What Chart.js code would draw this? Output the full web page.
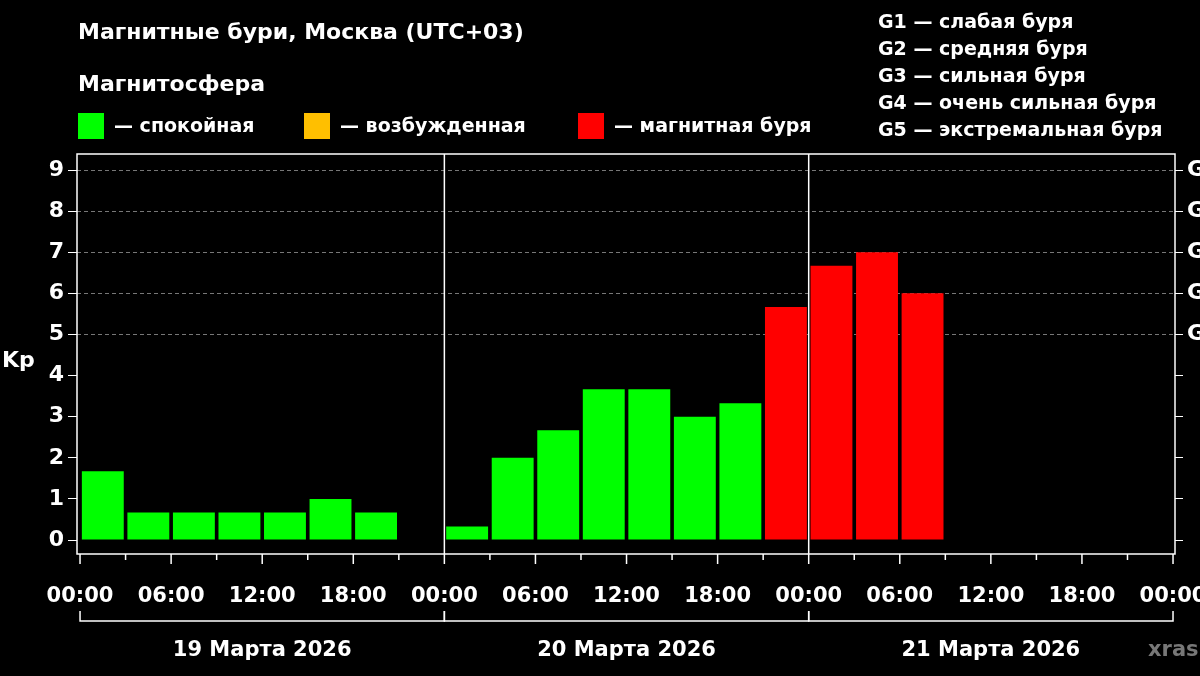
<!DOCTYPE html>
<html>
<head>
<meta charset="utf-8">
<script src="https://cdn.jsdelivr.net/npm/chart.js@4"></script>
<style>
  html, body { margin: 0; padding: 0; background: #000; }
  #wrap { width: 1200px; height: 676px; }
</style>
</head>
<body>
<div id="wrap"><canvas id="kp"></canvas></div>
<script>
const slotHours = [0, 3, 6, 9, 12, 15, 18, 21, 24, 27, 30, 33, 36, 39, 42, 45, 48, 51, 54, 57, 60, 63, 66, 69];
const kpValues = [1.67, 0.67, 0.67, 0.67, 0.67, 1.0, 0.67, null,
                  0.33, 2.0, 2.67, 3.67, 3.67, 3.0, 3.33, 5.67,
                  6.67, 7.0, 6.0, null, null, null, null, null];
const dayLabels = ['19 Марта 2026', '20 Марта 2026', '21 Марта 2026'];
const stormLabels = ['G1', 'G2', 'G3', 'G4', 'G5'];
const stormLegend = ['G1 — слабая буря', 'G2 — средняя буря', 'G3 — сильная буря', 'G4 — очень сильная буря', 'G5 — экстремальная буря'];

const FONT = '"DejaVu Sans", sans-serif';
const GREEN = '#00ff00', ORANGE = '#ffbf00', RED = '#ff0000';

function barColor(v) {
  if (v >= 5) return RED;
  if (v >= 4) return ORANGE;
  return GREEN;
}

// frame, day separators, x ticks and labels, brackets and header text
const decor = {
  id: 'decor',
  afterDatasetsDraw(chart) {
    const ctx = chart.ctx, a = chart.chartArea, x = chart.scales.x;
    ctx.save();
    ctx.strokeStyle = '#fff';
    ctx.lineWidth = 1.5;
    ctx.strokeRect(a.left, a.top, a.right - a.left, a.bottom - a.top);
    [24, 48].forEach(h => {
      const px = x.getPixelForValue(h);
      ctx.beginPath(); ctx.moveTo(px, a.top); ctx.lineTo(px, a.bottom); ctx.stroke();
    });
    ctx.fillStyle = '#fff';
    ctx.font = 'bold 21px ' + FONT;
    ctx.textAlign = 'center';
    ctx.textBaseline = 'middle';
    for (let h = 0; h <= 72; h += 3) {
      const px = x.getPixelForValue(h);
      ctx.beginPath(); ctx.moveTo(px, a.bottom); ctx.lineTo(px, a.bottom + (h % 6 === 0 ? 10 : 6)); ctx.stroke();
      if (h % 6 === 0) ctx.fillText(String(h % 24).padStart(2, '0') + ':00', px, 597);
    }
    dayLabels.forEach((d, i) => {
      const x0 = x.getPixelForValue(i * 24), x1 = x.getPixelForValue(i * 24 + 24);
      ctx.beginPath();
      ctx.moveTo(x0, 611); ctx.lineTo(x0, 621); ctx.lineTo(x1, 621); ctx.lineTo(x1, 611);
      ctx.stroke();
      ctx.fillText(d, (x0 + x1) / 2, 651);
    });
    ctx.fillStyle = '#777';
    ctx.textAlign = 'left';
    ctx.fillText('xras', 1148, 651);

    ctx.fillStyle = '#fff';
    ctx.font = 'bold 22px ' + FONT;
    ctx.fillText('Kp', 2, 361);
    ctx.fillText('Магнитные бури, Москва (UTC+03)', 78, 33);
    ctx.fillText('Магнитосфера', 78, 85);
    ctx.font = 'bold 19px ' + FONT;
    const legend = [[GREEN, '— спокойная', 78], [ORANGE, '— возбужденная', 304], [RED, '— магнитная буря', 578]];
    legend.forEach(([c, t, lx]) => {
      ctx.fillStyle = c;
      ctx.fillRect(lx, 113, 26, 26);
      ctx.fillStyle = '#fff';
      ctx.fillText(t, lx + 36, 127);
    });
    stormLegend.forEach((t, i) => ctx.fillText(t, 878, 23 + i * 27));
    ctx.restore();
  }
};

new Chart(document.getElementById('kp'), {
  type: 'bar',
  data: {
    datasets: [{
      data: slotHours.map((h, i) => ({ x: h + 1.5, y: kpValues[i] })),
      backgroundColor: c => barColor(c.raw ? c.raw.y : 0),
      categoryPercentage: 1,
      barPercentage: 0.92,
      yAxisID: 'y'
    }]
  },
  options: {
    responsive: true,
    maintainAspectRatio: false,
    animation: false,
    layout: { padding: { top: 154, left: 0, right: 0, bottom: 0 } },
    plugins: { legend: { display: false }, tooltip: { enabled: false } },
    scales: {
      x: {
        type: 'linear', min: -0.2, max: 72.13, offset: false,
        afterFit: s => { s.height = 122; },
        grid: { display: false, drawTicks: false },
        border: { display: false },
        ticks: { display: false }
      },
      y: {
        min: -0.34, max: 9.39,
        afterBuildTicks: s => { s.ticks = []; for (let k = 0; k <= 9; k++) s.ticks.push({ value: k }); },
        afterFit: s => { s.width = 77; },
        grid: { color: c => c.tick && c.tick.value >= 5 ? '#777' : 'transparent', tickColor: '#fff', tickLength: 9, lineWidth: 1 },
        border: { display: false, dash: [4, 3] },
        ticks: { color: '#fff', padding: 4, font: { family: FONT, size: 22, weight: 'bold' } }
      },
      y1: {
        position: 'right', min: -0.34, max: 9.39,
        afterBuildTicks: s => { s.ticks = []; for (let k = 0; k <= 9; k++) s.ticks.push({ value: k }); },
        afterFit: s => { s.width = 25; },
        grid: { drawOnChartArea: false, tickColor: '#fff', tickLength: 8 },
        border: { display: false },
        ticks: { color: '#fff', padding: 4, font: { family: FONT, size: 22, weight: 'bold' },
          callback: v => v >= 5 ? stormLabels[v - 5] : '' }
      }
    }
  },
  plugins: [decor]
});
</script>
</body>
</html>
